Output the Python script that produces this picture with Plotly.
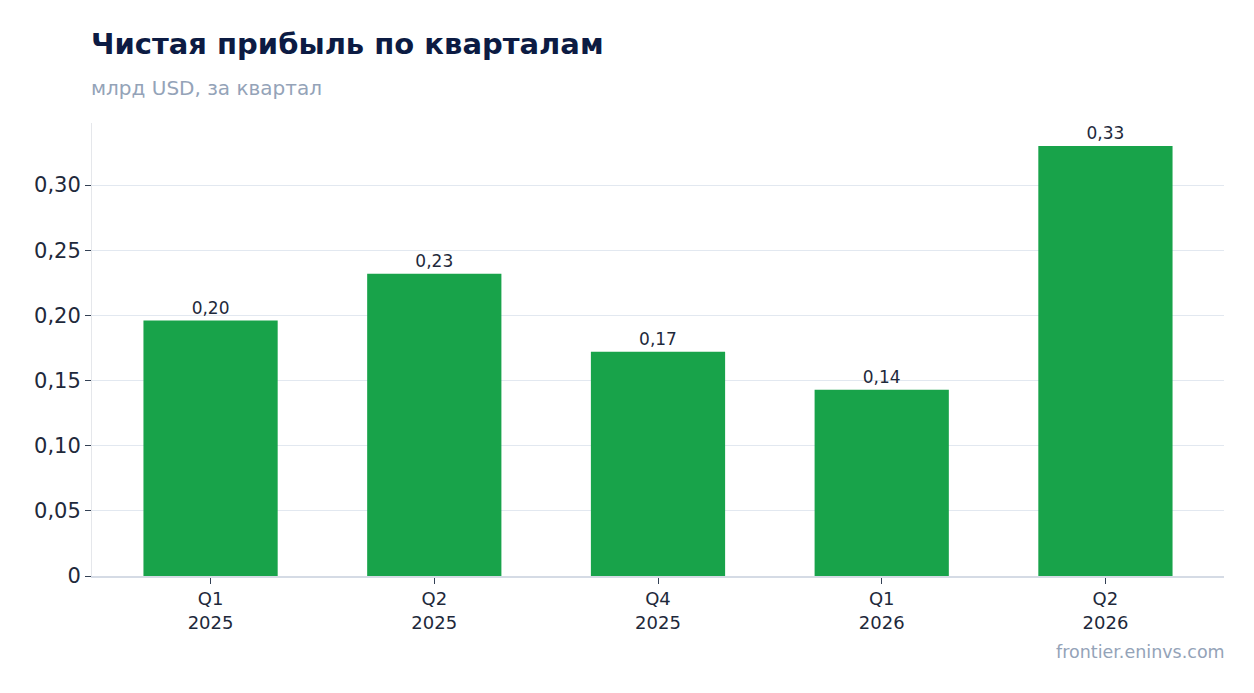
import plotly.graph_objects as go

quarters = ["Q1<br>2025", "Q2<br>2025", "Q4<br>2025", "Q1<br>2026", "Q2<br>2026"]
net_profit = [0.196, 0.232, 0.172, 0.143, 0.330]
y_ticks = [0, 0.05, 0.10, 0.15, 0.20, 0.25, 0.30]
y_tick_labels = ["0", "0,05", "0,10", "0,15", "0,20", "0,25", "0,30"]

TITLE = "Чистая прибыль по кварталам"
SUBTITLE = "млрд USD, за квартал"
SOURCE = "frontier.eninvs.com"

FONT = "DejaVu Sans"

fig = go.Figure()
fig.add_trace(go.Bar(
    x=quarters,
    y=net_profit,
    width=0.6,
    marker=dict(color="#18a34a", line=dict(width=0)),
    texttemplate="%{y:.2f}",
    textposition="outside",
    textfont=dict(family=FONT, size=17, color="#1e293b"),
    cliponaxis=False,
))

# page body adds an 8px offset, margins compensate for it
fig.update_layout(
    width=1254,
    height=693,
    margin=dict(l=84, r=38, t=115, b=125),
    paper_bgcolor="white",
    plot_bgcolor="white",
    separators=",.",
    showlegend=False,
    font=dict(family=FONT, color="#1e293b"),
    annotations=[
        dict(text="<b>" + TITLE + "</b>", xref="paper", yref="paper", x=0, y=1.174,
             xanchor="left", yanchor="middle", showarrow=False, xshift=-3,
             font=dict(family=FONT, size=29, color="#0c1b43")),
        dict(text=SUBTITLE, xref="paper", yref="paper", x=0, y=1.077,
             xanchor="left", yanchor="middle", showarrow=False, xshift=-3,
             font=dict(family=FONT, size=20, color="#94a3b8")),
        dict(text=SOURCE, xref="paper", yref="paper", x=1, y=-0.168,
             xanchor="right", yanchor="middle", showarrow=False, xshift=3,
             font=dict(family=FONT, size=17.5, color="#94a3b8")),
    ],
)

fig.update_xaxes(
    range=[-0.53, 4.53],
    showgrid=False,
    showline=True, linecolor="#d5dbe5", linewidth=1.5,
    ticks="outside", tickcolor="#334155", ticklen=6,
    tickfont=dict(family=FONT, size=18, color="#1e293b"),
)
fig.update_yaxes(
    range=[0, 0.3476],
    tickvals=y_ticks, ticktext=y_tick_labels,
    showgrid=True, gridcolor="#e2e8f0", gridwidth=1.2,
    showline=True, linecolor="#e5e7eb", linewidth=1,
    zeroline=False,
    ticks="outside", tickcolor="#334155", ticklen=6,
    tickfont=dict(family=FONT, size=21, color="#1e293b"),
)

fig.write_html("out.html")
